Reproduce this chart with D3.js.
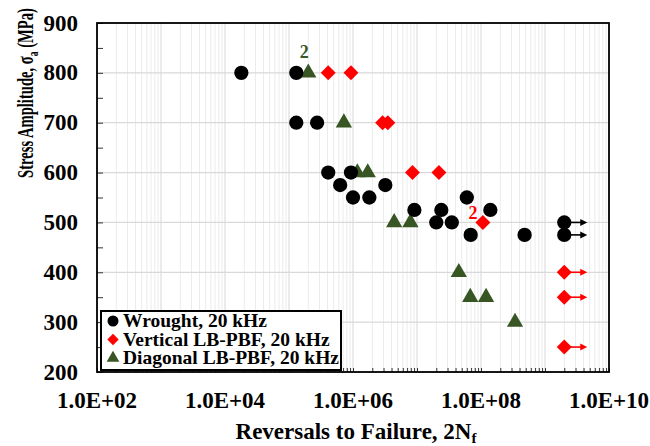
<!DOCTYPE html>
<html><head><meta charset="utf-8">
<script src="https://cdn.jsdelivr.net/npm/d3@7"></script>
<style>body{margin:0;background:#fff}svg text{font-family:"Liberation Serif","Times New Roman",serif;font-weight:bold}</style>
</head><body><svg id="c" width="650" height="446"></svg>
<script>
// ---- data ----
const wroughtN = [1.8e4,1.3e5,1.3e5,2.75e5,4.1e5,9.3e5,6.3e5,3.2e6,1.0e6,1.8e6,6.0e7,9.1e6,2.4e7,1.4e8,2.0e7,3.5e7,6.9e7,4.8e8,2e9,2e9];
const wroughtS = [800,800,700,700,600,600,575,575,550,550,550,525,525,525,500,500,475,475,500,475];
const wroughtRunout = [0,0,0,0,0,0,0,0,0,0,0,0,0,0,0,0,0,0,1,1];
const verticalN = [4.1e5,9.3e5,2.9e6,3.5e6,8.5e6,2.2e7,1.07e8,2e9,2e9,2e9];
const verticalS = [800,800,700,700,600,600,500,400,350,250];
const verticalRunout = [0,0,0,0,0,0,0,1,1,1];
const diagonalN = [2.0e5,7.2e5,1.17e6,1.7e6,4.4e6,7.9e6,4.5e7,6.8e7,1.2e8,3.4e8];
const diagonalS = [800,700,600,600,500,500,400,350,350,300];
const xTicks = [1e2,1e4,1e6,1e8,1e10];
const yTicks = [200,300,400,500,600,700,800,900];
const legendLabels = ["Wrought, 20 kHz","Vertical LB-PBF, 20 kHz","Diagonal LB-PBF, 20 kHz"];
const annotations = [{N:2.0e5,S:800,text:"2",series:2},{N:1.07e8,S:500,text:"2",series:1}];

const colors = ["#000000","#ff0000","#375623"];
const svg = d3.select("#c");
const L=97,R=609,T=23,B=372;
const x = d3.scaleLog().domain([1e2,1e10]).range([L,R]);
const y = d3.scaleLinear().domain([200,900]).range([B,T]);

// grid
const minor=[];
for(let e=2;e<10;e++) for(let m=2;m<10;m++) minor.push(m*Math.pow(10,e));
svg.append("g").selectAll("line").data(minor).join("line")
  .attr("x1",d=>x(d)).attr("x2",d=>x(d)).attr("y1",T).attr("y2",B)
  .attr("stroke","#ececec").attr("stroke-width",1);
const majors=d3.range(2,11).map(e=>Math.pow(10,e));
svg.append("g").selectAll("line").data(majors).join("line")
  .attr("x1",d=>x(d)).attr("x2",d=>x(d)).attr("y1",T).attr("y2",B)
  .attr("stroke","#d6d6d6").attr("stroke-width",1);
svg.append("g").selectAll("line").data(yTicks).join("line")
  .attr("x1",L).attr("x2",R).attr("y1",d=>y(d)).attr("y2",d=>y(d))
  .attr("stroke","#d9d9d9").attr("stroke-width",1.2);

// axes (inside ticks)
const yAx = svg.append("g").attr("transform",`translate(${L},0)`)
  .call(d3.axisRight(y).tickValues(d3.range(200,901,50)).tickSize(6).tickFormat(""));
yAx.select(".domain").remove();
const xAx = svg.append("g").attr("transform",`translate(0,${B})`)
  .call(d3.axisTop(x).tickValues(minor.concat(majors)).tickSize(4).tickFormat(""));
xAx.select(".domain").remove();
svg.selectAll(".tick line").attr("stroke","#333");

// labels
svg.append("g").selectAll("text").data(yTicks).join("text")
  .attr("x",78).attr("y",d=>y(d)).attr("dy","0.33em").attr("text-anchor","end")
  .attr("font-size",23).text(d=>d);
svg.append("g").selectAll("text").data(xTicks).join("text")
  .attr("x",d=>x(d)).attr("y",408).attr("text-anchor","middle")
  .attr("font-size",23).text(d=>d3.format(".1e")(d).replace("e","E").replace(/E([+-])(\d)$/,"E$10$2"));
const xt = svg.append("text").attr("x",356).attr("y",439).attr("text-anchor","middle").attr("font-size",23);
xt.append("tspan").text("Reversals to Failure, 2N");
xt.append("tspan").attr("font-size",15).attr("dy",4).text("f");
const ytg = svg.append("g").attr("transform","translate(33,93) rotate(-90)");
const yt = ytg.append("text").attr("text-anchor","middle").attr("font-size",23);
yt.append("tspan").text("Stress Amplitude, σ");
yt.append("tspan").attr("font-size",15).attr("dy",5).text("a");
yt.append("tspan").attr("dy",-5).text(" (MPa)");
const yl = yt.node().getComputedTextLength();
if (yl>170) yt.attr("transform",`scale(${170/yl},1)`);

// frame
svg.append("rect").attr("x",L).attr("y",T).attr("width",R-L).attr("height",B-T)
  .attr("fill","none").attr("stroke","#000").attr("stroke-width",1.8);

// runout arrows
function arrows(N,S,run,col){
  const d=N.map((n,i)=>({n,s:S[i],r:run[i]})).filter(d=>d.r);
  const g=svg.append("g");
  g.selectAll("line").data(d).join("line")
    .attr("x1",d=>x(d.n)).attr("x2",d=>x(d.n)+18).attr("y1",d=>y(d.s)).attr("y2",d=>y(d.s))
    .attr("stroke",col).attr("stroke-width",1.6);
  g.selectAll("path").data(d).join("path")
    .attr("d",d=>{const ax=x(d.n)+23,ay=y(d.s);return `M${ax},${ay}L${ax-7},${ay-3.5}L${ax-7},${ay+3.5}Z`;})
    .attr("fill",col);
}
arrows(wroughtN,wroughtS,wroughtRunout,colors[0]);
arrows(verticalN,verticalS,verticalRunout,colors[1]);

const sym=[d3.symbolCircle,d3.symbolSquare,d3.symbolTriangle];
const sz=[160,112,115];
const rot=k=>k==1?" rotate(45)":"";
function pts(N,S,k){
  svg.append("g").selectAll("path").data(N.map((n,i)=>({n,s:S[i]}))).join("path")
    .attr("transform",d=>`translate(${x(d.n)},${y(d.s)})`+rot(k))
    .attr("d",d3.symbol().type(sym[k]).size(sz[k])).attr("fill",colors[k]);
}
pts(diagonalN,diagonalS,2);
pts(wroughtN,wroughtS,0);
pts(verticalN,verticalS,1);

// annotations
svg.append("text").attr("x",x(annotations[0].N)-4).attr("y",y(annotations[0].S)-15)
  .attr("text-anchor","middle").attr("font-size",18).attr("fill",colors[2]).text(annotations[0].text);
svg.append("text").attr("x",x(annotations[1].N)-10).attr("y",y(annotations[1].S)-3)
  .attr("text-anchor","middle").attr("font-size",18).attr("fill",colors[1]).text(annotations[1].text);

// legend
const lg=svg.append("g");
lg.append("rect").attr("x",101).attr("y",311).attr("width",240).attr("height",59)
  .attr("fill","#fff").attr("stroke","#000").attr("stroke-width",2);
legendLabels.forEach((t,i)=>{
  const by=327+i*18.5;
  lg.append("path").attr("transform",`translate(113,${by-6})`+rot(i))
    .attr("d",d3.symbol().type(sym[i]).size([95,65,70][i])).attr("fill",colors[i]);
  lg.append("text").attr("x",123).attr("y",by).attr("font-size",19.5).text(t);
});
</script></body></html>
